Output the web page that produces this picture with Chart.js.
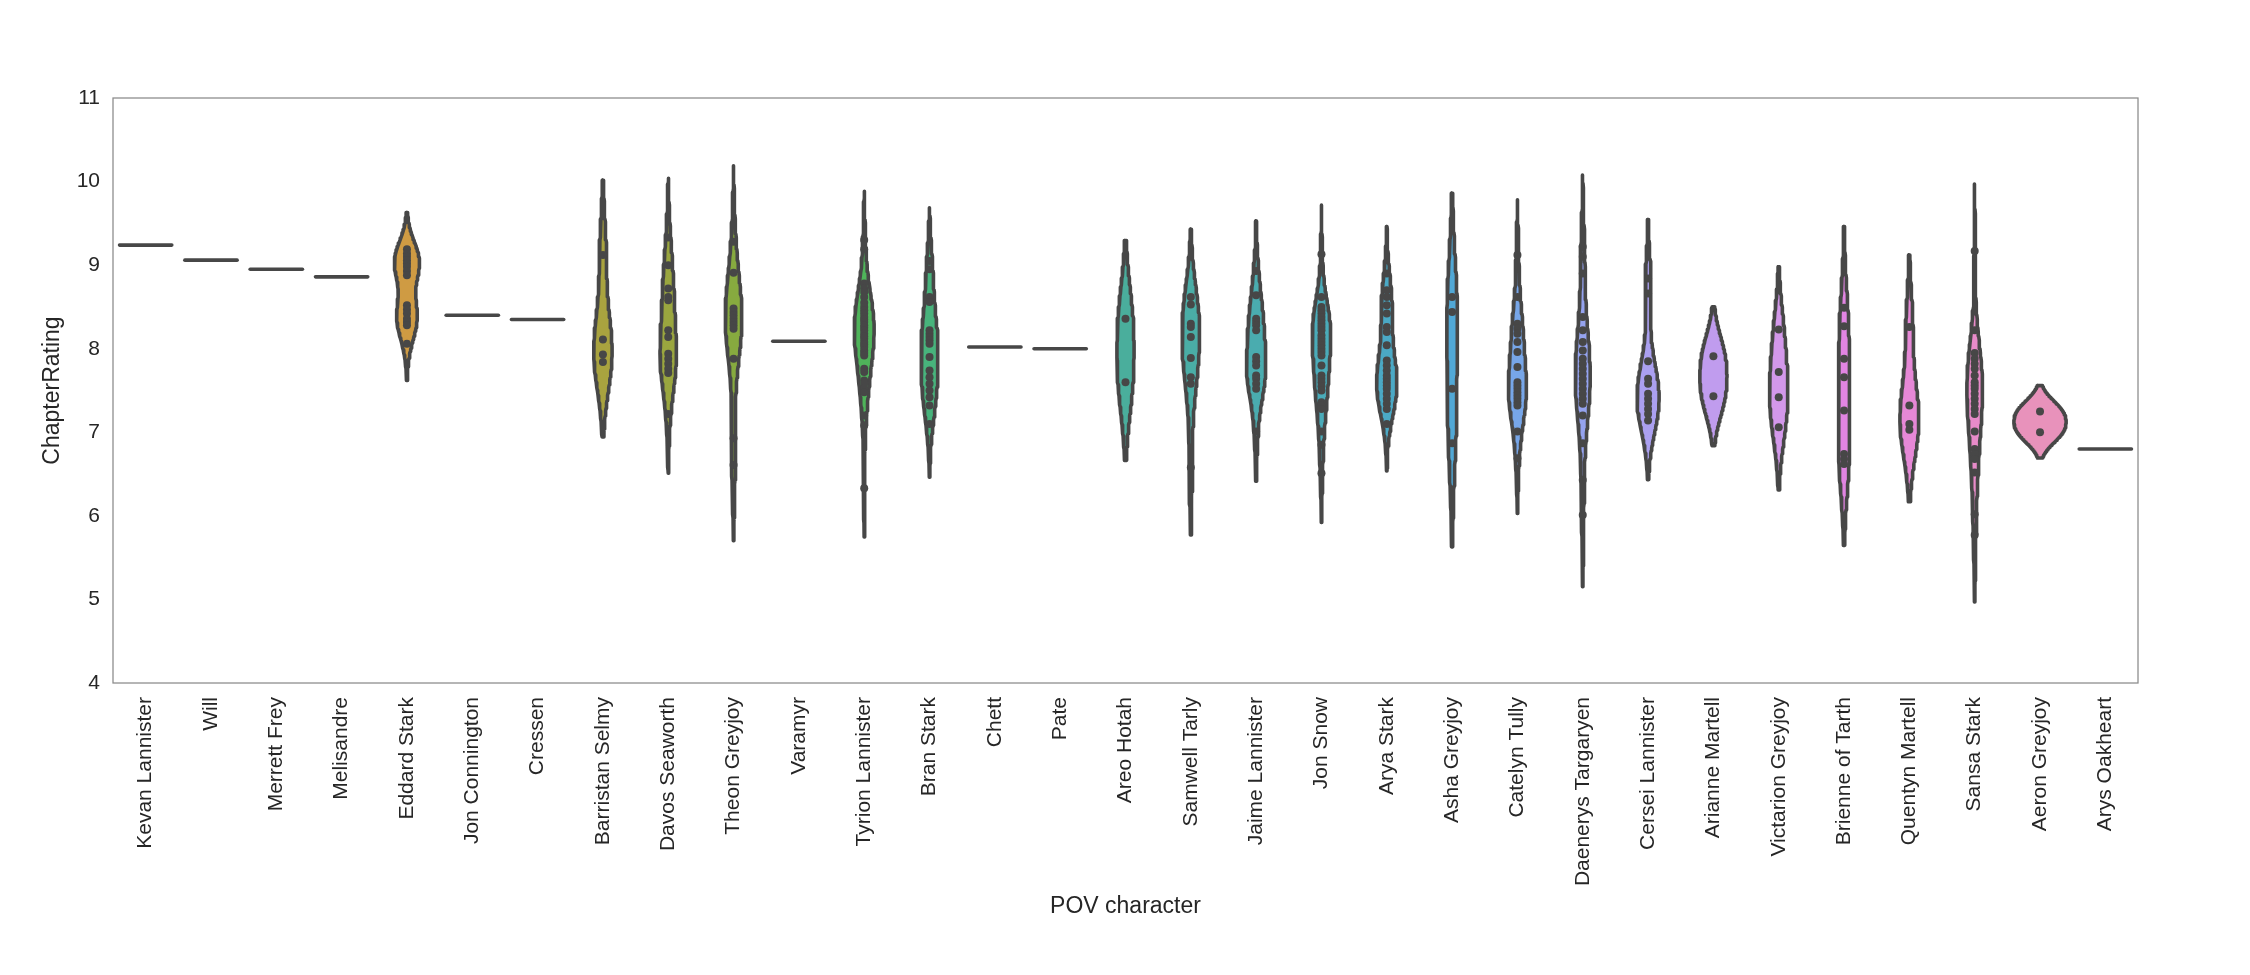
<!DOCTYPE html>
<html>
<head>
<meta charset="utf-8">
<script src="https://cdn.jsdelivr.net/npm/chart.js@4.4.1/dist/chart.umd.min.js"></script>
<style>
    html, body { margin: 0; padding: 0; background: #ffffff; }
    #chart-container { width: 2250px; height: 975px; }
</style>
</head>
<body>
<div id="chart-container"><canvas id="violin-chart"></canvas></div>
<script>
// POV characters, in the order they appear on the x axis
const characters = [
    'Kevan Lannister', 'Will', 'Merrett Frey', 'Melisandre', 'Eddard Stark',
    'Jon Connington', 'Cressen', 'Barristan Selmy', 'Davos Seaworth', 'Theon Greyjoy',
    'Varamyr', 'Tyrion Lannister', 'Bran Stark', 'Chett', 'Pate',
    'Areo Hotah', 'Samwell Tarly', 'Jaime Lannister', 'Jon Snow', 'Arya Stark',
    'Asha Greyjoy', 'Catelyn Tully', 'Daenerys Targaryen', 'Cersei Lannister', 'Arianne Martell',
    'Victarion Greyjoy', 'Brienne of Tarth', 'Quentyn Martell', 'Sansa Stark', 'Aeron Greyjoy',
    'Arys Oakheart'
];

// Chapter ratings per character
const kevanLannister = [9.24];
const will = [9.06];
const merrettFrey = [8.95];
const melisandre = [8.86];
const eddardStark = [9.19, 9.14, 9.10, 9.06, 9.02, 8.98, 8.93, 8.88, 8.52, 8.47, 8.42, 8.36,
    8.32, 8.28, 8.06];
const jonConnington = [8.40];
const cressen = [8.35];
const barristanSelmy = [9.12, 8.11, 7.93, 7.84];
const davosSeaworth = [9.33, 9.00, 8.72, 8.62, 8.58, 8.22, 8.14, 7.94, 7.88, 7.82, 7.76, 7.71, 7.22];
const theonGreyjoy = [9.28, 8.91, 8.48, 8.44, 8.40, 8.36, 8.32, 8.28, 8.24, 7.88, 6.93, 6.61];
const varamyr = [8.09];
const tyrionLannister = [9.30, 9.19, 8.78, 8.72, 8.68, 8.62, 8.55, 8.50, 8.46, 8.42, 8.38, 8.35,
    8.32, 8.28, 8.25, 8.22, 8.18, 8.15, 8.12, 8.08, 8.05, 8.02, 7.98, 7.95, 7.92, 7.76, 7.72,
    7.62, 7.58, 7.52, 7.48, 7.20, 7.08, 6.33];
const branStark = [9.05, 8.95, 8.62, 8.56, 8.22, 8.18, 8.14, 8.10, 8.06, 7.90, 7.74, 7.66,
    7.58, 7.50, 7.42, 7.32, 7.10];
const chett = [8.02];
const pate = [8.00];
const areoHotah = [8.36, 7.60];
const samwellTarly = [8.62, 8.53, 8.30, 8.26, 8.14, 7.89, 7.66, 7.58, 6.58];
const jaimeLannister = [8.93, 8.64, 8.36, 8.32, 8.28, 8.22, 7.90, 7.85, 7.80, 7.68, 7.64, 7.58, 7.52, 7.01];
const jonSnow = [9.13, 8.62, 8.50, 8.46, 8.42, 8.38, 8.34, 8.30, 8.26, 8.22, 8.16, 8.12, 8.08,
    8.04, 8.00, 7.96, 7.92, 7.80, 7.68, 7.64, 7.60, 7.55, 7.50, 7.36, 7.32, 7.28, 7.01, 6.85, 6.51];
const aryaStark = [8.90, 8.70, 8.62, 8.52, 8.42, 8.26, 8.20, 8.04, 7.86, 7.80, 7.74, 7.68, 7.64,
    7.60, 7.56, 7.52, 7.46, 7.40, 7.34, 7.28, 7.10];
const ashaGreyjoy = [8.62, 8.44, 7.52, 6.87];
const catelynTully = [9.12, 8.62, 8.30, 8.24, 8.18, 8.08, 7.96, 7.78, 7.60, 7.56, 7.52, 7.48,
    7.44, 7.40, 7.36, 7.32, 7.01, 6.69];
const daenerysTargaryen = [9.22, 9.10, 8.90, 8.38, 8.22, 8.08, 7.98, 7.88, 7.82, 7.76, 7.70,
    7.64, 7.58, 7.52, 7.46, 7.40, 7.34, 7.20, 6.87, 6.43, 6.01];
const cerseiLannister = [8.84, 8.66, 7.85, 7.64, 7.58, 7.46, 7.40, 7.34, 7.28, 7.22, 7.14];
const arianneMartell = [7.91, 7.43];
const victarionGreyjoy = [8.23, 7.72, 7.42, 7.06];
const brienneOfTarth = [8.49, 8.27, 7.88, 7.66, 7.26, 6.74, 6.68, 6.62];
const quentynMartell = [8.26, 7.32, 7.10, 7.03];
const sansaStark = [9.17, 8.22, 7.95, 7.88, 7.82, 7.76, 7.68, 7.60, 7.56, 7.52, 7.46, 7.40,
    7.34, 7.28, 7.22, 7.01, 6.80, 6.74, 6.68, 6.52, 6.02, 5.77];
const aeronGreyjoy = [7.25, 7.00];
const arysOakheart = [6.80];

const ratings = [
    kevanLannister, will, merrettFrey, melisandre, eddardStark,
    jonConnington, cressen, barristanSelmy, davosSeaworth, theonGreyjoy,
    varamyr, tyrionLannister, branStark, chett, pate,
    areoHotah, samwellTarly, jaimeLannister, jonSnow, aryaStark,
    ashaGreyjoy, catelynTully, daenerysTargaryen, cerseiLannister, arianneMartell,
    victarionGreyjoy, brienneOfTarth, quentynMartell, sansaStark, aeronGreyjoy,
    arysOakheart
];

// One fill colour per character (husl-like palette, desaturated)
const fillColors = [
    '#e38793', '#e28a80', '#dc8e6a', '#d59456', '#cf9b43',
    '#c39e3f', '#b7a03f', '#a9a33f', '#9aa63f', '#87aa3f',
    '#6aae3f', '#4fb45a', '#48b37c', '#4ab18a', '#4aaf94',
    '#4aae9c', '#4aada6', '#4aacaf', '#4aabb9', '#4ba9c5',
    '#51a8d6', '#77a6e8', '#95a3ef', '#aba0f0', '#c09cee',
    '#d398ea', '#e185e2', '#e688d6', '#e88bc9', '#e892bb',
    '#e78ea6'
];

const GRAY = '#474747';
const TEXT = '#262626';
const FRAME = '#8a8a8a';
const FONT = 'Liberation Sans, Arial, sans-serif';
const HALF_WIDTH = 0.4; // half of the violin width, in category units
const GRID_SIZE = 100;

// Gaussian KDE with Scott's bandwidth, cut at 2 bandwidths (what seaborn does)
function kde(values) {
    const n = values.length;
    const mean = values.reduce((a, b) => a + b, 0) / n;
    const variance = values.reduce((a, v) => a + (v - mean) * (v - mean), 0) / (n - 1);
    const bw = Math.sqrt(variance) * Math.pow(n, -0.2);
    const lo = Math.min(...values) - 2 * bw;
    const hi = Math.max(...values) + 2 * bw;
    const support = [];
    const density = [];
    for (let k = 0; k < GRID_SIZE; k++) {
        const y = lo + (hi - lo) * k / (GRID_SIZE - 1);
        let sum = 0;
        values.forEach(v => {
            const z = (y - v) / bw;
            sum += Math.exp(-0.5 * z * z);
        });
        support.push(y);
        density.push(sum / (n * bw * Math.sqrt(2 * Math.PI)));
    }
    return { support, density };
}

const kdes = ratings.map(r => new Set(r).size > 1 ? kde(r) : null);
// scale="area": every violin is divided by the largest density of all
const maxDensity = Math.max(...kdes.filter(Boolean).map(k => Math.max(...k.density)));

const datasets = [];
ratings.forEach((r, i) => {
    const k = kdes[i];
    let outline;
    if (k) {
        const right = k.support.map((y, j) => ({ x: i + k.density[j] / maxDensity * HALF_WIDTH, y: y }));
        const left = k.support.map((y, j) => ({ x: i - k.density[j] / maxDensity * HALF_WIDTH, y: y })).reverse();
        outline = right.concat(left, [right[0]]);
    } else {
        // single chapter: just a horizontal line
        outline = [{ x: i - HALF_WIDTH, y: r[0] }, { x: i + HALF_WIDTH, y: r[0] }];
    }
    datasets.push({
        data: outline,
        fill: k ? 'shape' : false,
        backgroundColor: fillColors[i],
        borderColor: GRAY,
        borderWidth: 3.6,
        borderCapStyle: 'round',
        borderJoinStyle: 'round',
        pointRadius: 0,
        tension: 0,
        order: 2
    });
    if (k) {
        datasets.push({
            data: r.map(v => ({ x: i, y: v })),
            showLine: false,
            pointRadius: 4,
            pointBorderWidth: 0,
            pointBackgroundColor: GRAY,
            order: 1
        });
    }
});

// Draw the full box around the plot area
const framePlugin = {
    id: 'frame',
    beforeDatasetsDraw(chart) {
        const { ctx, chartArea: a } = chart;
        ctx.save();
        ctx.strokeStyle = FRAME;
        ctx.lineWidth = 1.25;
        ctx.strokeRect(a.left, a.top, a.right - a.left, a.bottom - a.top);
        ctx.restore();
    }
};

const ctx = document.getElementById('violin-chart').getContext('2d');
new Chart(ctx, {
    type: 'line',
    data: { datasets: datasets },
    plugins: [framePlugin],
    options: {
        responsive: true,
        maintainAspectRatio: false,
        animation: false,
        layout: { padding: { top: 98, right: 112, bottom: 0, left: 0 } },
        plugins: {
            legend: { display: false },
            tooltip: { enabled: false }
        },
        scales: {
            x: {
                type: 'linear',
                min: -0.5,
                max: characters.length - 0.5,
                grid: { display: false, drawTicks: false },
                border: { display: false },
                afterBuildTicks: scale => {
                    scale.ticks = characters.map((c, i) => ({ value: i }));
                },
                afterFit: scale => { scale.height = 292; },
                ticks: {
                    autoSkip: false,
                    minRotation: 90,
                    maxRotation: 90,
                    padding: 14,
                    color: TEXT,
                    font: { family: FONT, size: 21 },
                    callback: value => characters[value]
                },
                title: {
                    display: true,
                    text: 'POV character',
                    color: TEXT,
                    font: { family: FONT, size: 23 },
                    padding: { top: 0, bottom: 55 }
                }
            },
            y: {
                min: 4,
                max: 11,
                grid: { display: false, drawTicks: false },
                border: { display: false },
                afterFit: scale => { scale.width = 113; },
                ticks: {
                    stepSize: 1,
                    padding: 13,
                    color: TEXT,
                    font: { family: FONT, size: 21 }
                },
                title: {
                    display: true,
                    text: 'ChapterRating',
                    color: TEXT,
                    font: { family: FONT, size: 23 },
                    padding: { top: 39, bottom: 0 }
                }
            }
        }
    }
});
</script>
</body>
</html>
